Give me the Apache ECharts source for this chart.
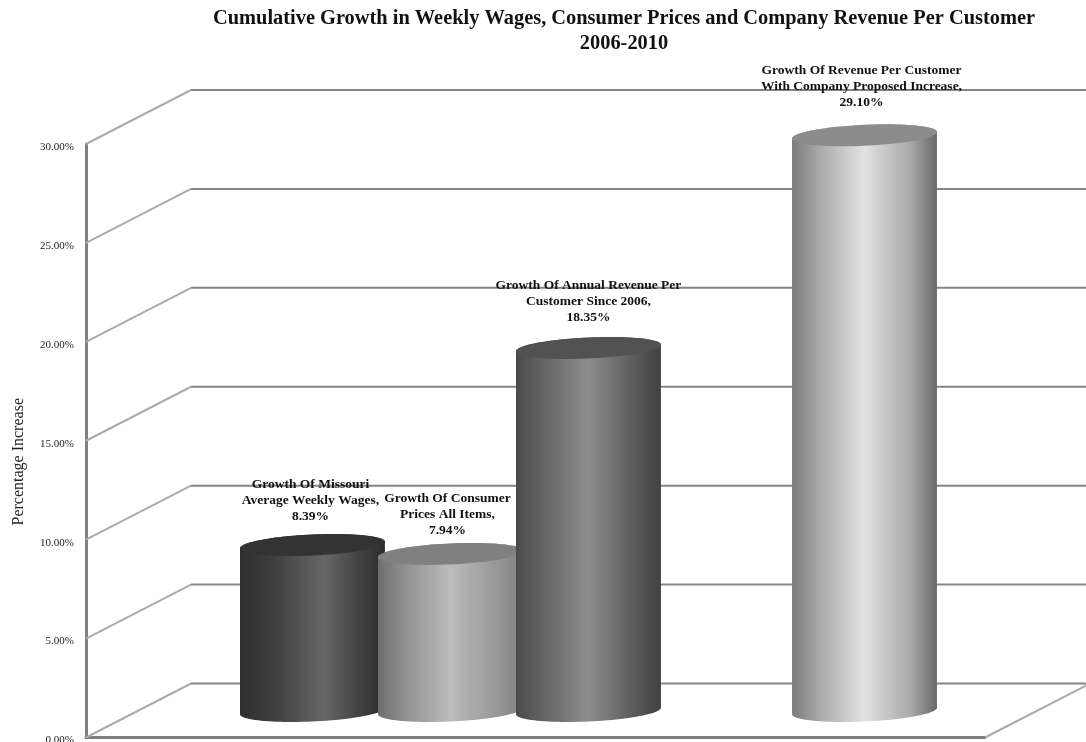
<!DOCTYPE html>
<html>
<head>
<meta charset="utf-8">
<style>html,body{margin:0;padding:0;background:#fff}#chart{width:1086px;height:742px}</style>
<script src="https://cdn.jsdelivr.net/npm/echarts@6/dist/echarts.min.js"></script>
</head>
<body>
<div id="chart"></div>
<script>
// Growth figures, one cylinder per measure
const seriesLabels = [
  'Growth Of Missouri\nAverage Weekly Wages,\n8.39%',
  'Growth Of Consumer\nPrices All Items,\n7.94%',
  'Growth Of Annual Revenue Per\nCustomer Since 2006,\n18.35%',
  'Growth Of Revenue Per Customer\nWith Company Proposed Increase,\n29.10%'
];
const growthValues = [8.39, 7.94, 18.35, 29.10];
// Slot 3 is left empty between the third and fourth cylinder
const slots = [0, 1, 2, 4];
const yTicks = [0, 5, 10, 15, 20, 25, 30];

// Cylinder shading: side gradient stops and lid colour
const sideShades = [
  [[0, '#2e2e2e'], [0.2, '#3c3c3c'], [0.58, '#666666'], [0.85, '#3e3e3e'], [1, '#2c2c2c']],
  [[0, '#6e6e6e'], [0.2, '#929292'], [0.5, '#bcbcbc'], [0.85, '#949494'], [1, '#808080']],
  [[0, '#4a4a4a'], [0.2, '#666666'], [0.5, '#8e8e8e'], [0.85, '#555555'], [1, '#404040']],
  [[0, '#7a7a7a'], [0.2, '#acacac'], [0.5, '#e2e2e2'], [0.82, '#a8a8a8'], [1, '#686868']]
];
const lidColours = ['#333333', '#808080', '#525252', '#8c8c8c'];
// Small per-label placement tweaks around each cylinder top
const labelShiftX = [-2, -3, 0, -3];
const labelShiftY = [-34, -29, -36, -38];

// Oblique projection of the box: depth of the back wall, cylinders stand half way
const DEPTH_X = 105, DEPTH_Y = -54;
const MID_X = 52, MID_Y = -26.5;
const X_MIN = -1.264, X_MAX = 5.25;
const CYL_SLOT_WIDTH = 1.05, LID_RY = 10.5, LID_TILT = 0.045;
const SERIF = '"Liberation Serif","Times New Roman",serif';

function ellipsePoints(cx, cy, rx, from, to, steps) {
  const pts = [];
  for (let i = 0; i <= steps; i++) {
    const t = from + (to - from) * i / steps;
    const dx = rx * Math.cos(t);
    pts.push([cx + dx, cy + LID_RY * Math.sin(t) - LID_TILT * dx]);
  }
  return pts;
}

function renderWall(params, api) {
  const v = api.value(0);
  const a = api.coord([X_MIN, v]);
  const b = api.coord([X_MAX, v]);
  const corner = [a[0] + DEPTH_X, a[1] + DEPTH_Y];
  const far = [b[0] + DEPTH_X, b[1] + DEPTH_Y];
  const children = [
    { type: 'polyline', shape: { points: [a, corner] }, style: { stroke: '#ababab', lineWidth: 2, fill: null } },
    { type: 'polyline', shape: { points: [corner, far] }, style: { stroke: '#858585', lineWidth: 2, fill: null } }
  ];
  if (v === 0) {
    children.push({ type: 'polyline', shape: { points: [b, far] }, style: { stroke: '#ababab', lineWidth: 2, fill: null } });
  }
  return { type: 'group', children };
}

function renderCylinder(params, api) {
  const i = params.dataIndex;
  const slot = api.value(0), v = api.value(1);
  const top = api.coord([slot, v]);
  const base = api.coord([slot, 0]);
  const rx = api.size([CYL_SLOT_WIDTH, 0])[0] / 2;
  const cx = top[0] + MID_X;
  const topY = top[1] + MID_Y, baseY = base[1] + MID_Y;
  const lower = ellipsePoints(cx, baseY, rx, Math.PI, 0, 48);
  const body = lower.concat(ellipsePoints(cx, topY, rx, 0, -Math.PI, 48));
  const lid = ellipsePoints(cx, topY, rx, 0, Math.PI * 2, 96);
  return {
    type: 'group',
    children: [
      {
        type: 'polygon', shape: { points: body },
        style: {
          fill: new echarts.graphic.LinearGradient(0, 0, 1, 0,
            sideShades[i].map(s => ({ offset: s[0], color: s[1] })))
        }
      },
      { type: 'polygon', shape: { points: lid }, style: { fill: lidColours[i] } },
      {
        type: 'text', z2: 10,
        x: cx + labelShiftX[i], y: topY - LID_RY + labelShiftY[i],
        style: {
          text: seriesLabels[i], align: 'center', verticalAlign: 'middle',
          font: 'bold 13.5px ' + SERIF, lineHeight: 16, fill: '#111111'
        }
      }
    ]
  };
}

const chart = echarts.init(document.getElementById('chart'), null, { renderer: 'canvas' });
chart.setOption({
  animation: false,
  backgroundColor: '#ffffff',
  title: {
    text: 'Cumulative Growth in Weekly Wages, Consumer Prices and Company Revenue Per Customer\n2006-2010',
    left: 624, top: 6.5, padding: 0, textAlign: 'center',
    textStyle: { fontFamily: SERIF, fontWeight: 'bold', fontSize: 20.4, lineHeight: 24.5, color: '#111111' }
  },
  grid: { left: 86, right: 101, top: 144, bottom: 4.5, outerBoundsMode: 'none' },
  xAxis: {
    type: 'value', min: X_MIN, max: X_MAX,
    splitLine: { show: false }, axisTick: { show: false }, axisLabel: { show: false },
    axisLine: { show: true, onZero: false, lineStyle: { color: '#808080', width: 3 } }
  },
  yAxis: {
    type: 'value', min: 0, max: 30, interval: 5,
    name: 'Percentage Increase', nameLocation: 'middle', nameGap: 59, nameRotate: 90,
    nameTextStyle: { fontFamily: SERIF, fontSize: 16, color: '#222222', padding: [0, 42, 0, 0] },
    splitLine: { show: false }, axisTick: { show: false },
    axisLine: { show: true, onZero: false, lineStyle: { color: '#808080', width: 3 } },
    axisLabel: {
      margin: 12, fontFamily: SERIF, fontSize: 11, color: '#222222',
      verticalAlign: 'top', lineHeight: 6,
      formatter: v => v.toFixed(2) + '%'
    }
  },
  series: [
    {
      type: 'custom', z: 1, silent: true, clip: false,
      renderItem: renderWall,
      data: yTicks.map(v => [v])
    },
    {
      type: 'custom', z: 2, silent: true, clip: false,
      renderItem: renderCylinder,
      encode: { x: 0, y: 1 },
      data: slots.map((s, i) => [s, growthValues[i]])
    }
  ]
});
</script>
</body>
</html>
